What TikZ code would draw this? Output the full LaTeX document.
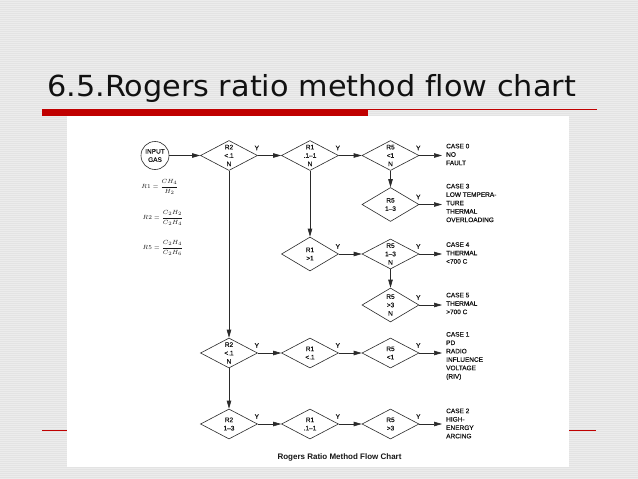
\documentclass[tikz,border=0pt]{standalone}
\usepackage{fontspec}
\usepackage{graphicx}
\setmainfont{Liberation Sans}
\newfontfamily\titlefont[Ligatures=NoCommon]{DejaVu Sans}
\newfontfamily\smallfont[FakeBold=0.6]{Liberation Sans}
\usetikzlibrary{shapes.geometric,arrows.meta,calc}
\definecolor{bg}{HTML}{E3E3E3}
\definecolor{bgline}{HTML}{ECECEC}
\definecolor{slidered}{HTML}{C00000}
\definecolor{ink}{HTML}{2A2A2A}
\definecolor{textink}{HTML}{161616}
\definecolor{titleink}{HTML}{111111}
\begin{document}
\begin{tikzpicture}[x=1pt,y=-1pt,
  small/.style={font=\smallfont\fontsize{6.5}{8.4}\selectfont, text=textink},
  dia/.style={diamond, draw=ink, line width=0.6pt, aspect=2, inner sep=0pt,
    minimum width=57pt, minimum height=30pt, small, align=center},
  tall/.style={minimum height=34pt},
  ylab/.style={small, inner sep=0pt},
  casetext/.style={small, align=left, anchor=west, inner xsep=4pt, inner ysep=0pt},
  arr/.style={draw=ink, line width=0.6pt, -{Triangle[length=8pt,width=4.5pt]}},
  formula/.style={font=\fontsize{6}{7}\selectfont, text=textink, inner sep=0pt}
]
\useasboundingbox (0,0) rectangle (638,479);
% slide background
\fill[bg] (0,0) rectangle (638,479);
\foreach \i in {0,2,...,478} \fill[bgline] (0,\i) rectangle (638,\i+0.9);
% red rules
\fill[slidered] (42,108.7) rectangle (368,116);
\draw[slidered, line width=0.8pt] (368,109.2) -- (597,109.2);
\draw[slidered, line width=0.9pt] (42,430.7) -- (596,430.7);
% white panel
\fill[white] (67,116) rectangle (569,467);
% title
\node[anchor=base west, inner sep=0pt, text=titleink,
  font=\titlefont\fontsize{29}{29}\selectfont] (title) at (47,96.7)
  {\scalebox{1.045}[1]{6.5.Rogers ratio method flow chart}};

% input
\node[circle, draw=ink, line width=0.6pt, minimum size=28pt, inner sep=0pt,
  small, align=center] (gas) at (155,155.5) {INPUT\\GAS};

% formulas
\node[formula] (f1) at (160,187) {$\displaystyle R1=\frac{CH_4}{H_2}$};
\node[formula] (f2) at (163,218) {$\displaystyle R2=\frac{C_2H_2}{C_2H_4}$};
\node[formula] (f3) at (163,248) {$\displaystyle R5=\frac{C_2H_4}{C_2H_6}$};

% diamonds
\node[dia] (d1) at (229,155.5) {R2\\<.1\\N};
\node[dia] (d2) at (310,155.5) {R1\\.1–1\\N};
\node[dia] (d3) at (390.5,155.5) {R5\\<1\\N};
\node[dia,tall] (d4) at (390.5,204.5) {R5\\1–3};
\node[dia,tall] (d5) at (310,254) {R1\\>1};
\node[dia] (d6) at (390.5,254) {R5\\1–3\\N};
\node[dia,tall] (d7) at (390.5,305) {R5\\>3\\N};
\node[dia] (d8) at (229,353) {R2\\<.1\\N};
\node[dia] (d9) at (310,353) {R1\\<.1};
\node[dia] (d10) at (390.5,353) {R5\\<1};
\node[dia] (d11) at (229,424) {R2\\1–3};
\node[dia] (d12) at (310,424) {R1\\.1–1};
\node[dia] (d13) at (390.5,424) {R5\\>3};

% Y labels
\foreach \d in {d1,d2,d3,d4,d5,d6,d7,d8,d9,d10,d11,d12,d13}
  \node[ylab] (y\d) at ([xshift=-1pt,yshift=7.5pt]\d.east) {Y};

% cases
\node[casetext] (c0) at (442,154.5) {CASE 0\\NO\\FAULT};
\node[casetext] (c3) at (442,203) {CASE 3\\LOW TEMPERA-\\TURE\\THERMAL\\OVERLOADING};
\node[casetext] (c4) at (442,253) {CASE 4\\THERMAL\\<700 C};
\node[casetext] (c5) at (442,303.5) {CASE 5\\THERMAL\\>700 C};
\node[casetext] (c1) at (442,356) {CASE 1\\PD\\RADIO\\INFLUENCE\\VOLTAGE\\(RIV)};
\node[casetext] (c2) at (442,423.5) {CASE 2\\HIGH-\\ENERGY\\ARCING};

% caption
\node[font=\bfseries\fontsize{8}{9}\selectfont, text=textink, inner sep=0pt] (cap) at (339.5,457) {Rogers Ratio Method Flow Chart};

% horizontal connectors
\draw[arr] (gas.east) -- (d1.west);
\draw[arr] (d1.east) -- (d2.west);
\draw[arr] (d2.east) -- (d3.west);
\draw[arr] (d3.east) -- (d3.east -| c0.west);
\draw[arr] (d4.east) -- (d4.east -| c3.west);
\draw[arr] (d5.east) -- (d6.west);
\draw[arr] (d6.east) -- (d6.east -| c4.west);
\draw[arr] (d7.east) -- (d7.east -| c5.west);
\draw[arr] (d8.east) -- (d9.west);
\draw[arr] (d9.east) -- (d10.west);
\draw[arr] (d10.east) -- (d10.east -| c1.west);
\draw[arr] (d11.east) -- (d12.west);
\draw[arr] (d12.east) -- (d13.west);
\draw[arr] (d13.east) -- (d13.east -| c2.west);
% vertical connectors
\draw[arr] (d1.south) -- (d8.north);
\draw[arr] (d2.south) -- (d5.north);
\draw[arr] (d3.south) -- (d4.north);
\draw[arr] (d6.south) -- (d7.north);
\draw[arr] (d8.south) -- (d11.north);
\end{tikzpicture}
\end{document}
